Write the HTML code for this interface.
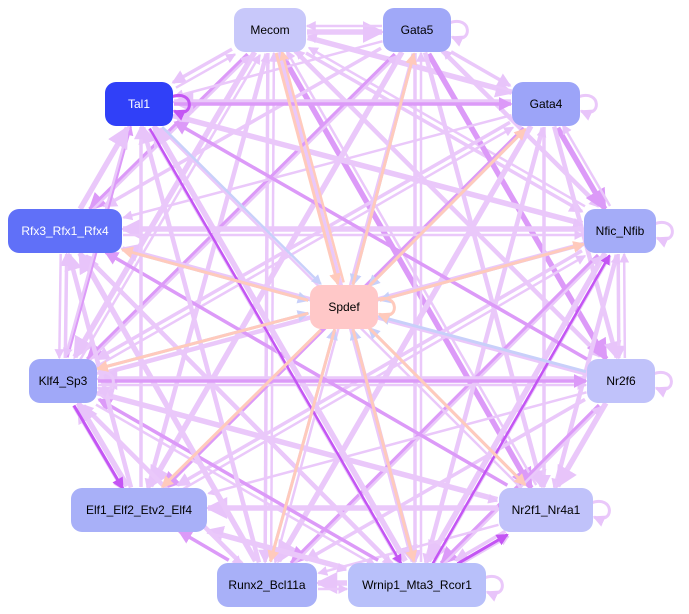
<!DOCTYPE html>
<html><head><meta charset="utf-8"><style>
html,body{margin:0;padding:0;background:#fff;}
svg{display:block;}
text{font-family:"Liberation Sans",sans-serif;font-size:12px;}
</style></head><body>
<svg id="g" width="689" height="614" viewBox="0 0 689 614" xmlns="http://www.w3.org/2000/svg">
<defs>
<marker id="mL" markerWidth="4" markerHeight="4" refX="3.5" refY="2" orient="auto" markerUnits="strokeWidth"><path d="M0,0 L4,2 L0,4z" fill="#e8c4fa"/></marker>
<marker id="mP" markerWidth="4" markerHeight="4" refX="3.5" refY="2" orient="auto" markerUnits="strokeWidth"><path d="M0,0 L4,2 L0,4z" fill="#c455f4"/></marker>
<marker id="mM" markerWidth="4" markerHeight="4" refX="3.5" refY="2" orient="auto" markerUnits="strokeWidth"><path d="M0,0 L4,2 L0,4z" fill="#dc9af8"/></marker>
<marker id="mO" markerWidth="4" markerHeight="4" refX="3.5" refY="2" orient="auto" markerUnits="strokeWidth"><path d="M0,0 L4,2 L0,4z" fill="#ffcabc"/></marker>
<marker id="mB" markerWidth="4" markerHeight="4" refX="3.5" refY="2" orient="auto" markerUnits="strokeWidth"><path d="M0,0 L4,2 L0,4z" fill="#c8d0fa"/></marker>
</defs>
<g id="edges"></g>
<g id="nodes"></g>
</svg>
<script>
var N={
Mecom:[270,30,72,"#c8c8fa","#000"],
Gata5:[417,30,68,"#a0a8f8","#000"],
Tal1:[139,104,68,"#3040f8","#fff"],
Gata4:[546,104,68,"#9ca4f8","#000"],
Rfx3_Rfx1_Rfx4:[65,231,114,"#6070f8","#fff"],
Nfic_Nfib:[620,231,72,"#a4acf8","#000"],
Spdef:[344,307,68,"#ffc8c8","#000"],
Klf4_Sp3:[63,381,68,"#a0a8f8","#000"],
Nr2f6:[621,381,68,"#c0c2fa","#000"],
Elf1_Elf2_Etv2_Elf4:[139,510,136,"#a8b0f8","#000"],
Nr2f1_Nr4a1:[546,510,94,"#c0c2fa","#000"],
Runx2_Bcl11a:[267,585,100,"#a8b0f8","#000"],
Wrnip1_Mta3_Rcor1:[417,585,138,"#b8c0fa","#000"]
};
var H=44;
var outer=["Mecom","Gata5","Gata4","Nfic_Nfib","Nr2f6","Nr2f1_Nr4a1","Wrnip1_Mta3_Rcor1","Runx2_Bcl11a","Elf1_Elf2_Etv2_Elf4","Klf4_Sp3","Rfx3_Rfx1_Rfx4","Tal1"];
var col={L:"#eac8fa",M:"#dc9af8",P:"#c455f4",O:"#ffcabc",B:"#c8d0fa"};
function clip(a,b){var dx=b[0]-a[0],dy=b[1]-a[1];var hw=a[2]/2+1,hh=H/2+1;var t=Math.min(Math.abs(hw/(dx||1e-9)),Math.abs(hh/(dy||1e-9)));return [a[0]+dx*t,a[1]+dy*t];}
var E=document.getElementById("edges"),NS="http://www.w3.org/2000/svg";
function edge(s,d,c,w,off){var a=N[s],b=N[d];off=off||0;var dx=b[0]-a[0],dy=b[1]-a[1],l=Math.hypot(dx,dy),px=-dy/l*off,py=dx/l*off;
var A=[a[0]+px,a[1]+py,a[2]],B=[b[0]+px,b[1]+py,b[2]];var p=clip(A,B),q=clip(B,A);
var ln=document.createElementNS(NS,"line");ln.setAttribute("x1",p[0]);ln.setAttribute("y1",p[1]);ln.setAttribute("x2",q[0]);ln.setAttribute("y2",q[1]);
ln.setAttribute("stroke",col[c]);ln.setAttribute("stroke-width",w||3);ln.setAttribute("marker-end","url(#m"+c+")");E.appendChild(ln);}
// lavender complete-ish graph among outer nodes
var skip={"Mecom-Tal1":1};
for(var i=0;i<outer.length;i++)for(var j=i+1;j<outer.length;j++){
 var s=outer[i],d=outer[j];
 var w=2.5+((i*7+j*3)%4);
 edge(s,d,((i+j)%5==0)?"M":"L",w,((i+j)%2)?2:-2);
 if((i*j)%3==0) edge(d,s,"L",2.5,4);
}
edge("Tal1","Gata4","M",3.5);
edge("Klf4_Sp3","Nr2f6","M",3.5);
// dark purple
edge("Klf4_Sp3","Elf1_Elf2_Etv2_Elf4","P",3,3);
edge("Tal1","Wrnip1_Mta3_Rcor1","P",2.5,3);
edge("Wrnip1_Mta3_Rcor1","Nfic_Nfib","P",2.5,3);
edge("Wrnip1_Mta3_Rcor1","Nr2f1_Nr4a1","P",3,2);
// into / out of Spdef
edge("Mecom","Spdef","O",3);edge("Spdef","Mecom","O",2.5,6);
edge("Gata5","Spdef","B",3,-3);edge("Spdef","Gata5","O",3,3);
edge("Tal1","Spdef","B",2.5);
edge("Gata4","Spdef","B",3,-3);edge("Spdef","Gata4","O",3,3);
edge("Nfic_Nfib","Spdef","B",3,-3);edge("Spdef","Nfic_Nfib","O",3,3);
edge("Nr2f6","Spdef","B",3);
edge("Rfx3_Rfx1_Rfx4","Spdef","B",3,3);edge("Spdef","Rfx3_Rfx1_Rfx4","O",3,-3);
edge("Klf4_Sp3","Spdef","B",3,-3);edge("Spdef","Klf4_Sp3","O",3,3);
edge("Spdef","Elf1_Elf2_Etv2_Elf4","O",3);edge("Runx2_Bcl11a","Spdef","B",3,-3);edge("Spdef","Runx2_Bcl11a","O",3,3);
edge("Wrnip1_Mta3_Rcor1","Spdef","B",3,3);edge("Spdef","Wrnip1_Mta3_Rcor1","O",3,-3);
edge("Nr2f1_Nr4a1","Spdef","B",3,3);edge("Spdef","Nr2f1_Nr4a1","O",3,-3);
// self loops
function loop(n,c){var a=N[n];var x=a[0]+a[2]/2,y=a[1];var p=document.createElementNS(NS,"path");
p.setAttribute("d","M"+(x-2)+","+(y-7)+" C"+(x+22)+","+(y-16)+" "+(x+22)+","+(y+16)+" "+(x+1)+","+(y+7));
p.setAttribute("fill","none");p.setAttribute("stroke",col[c]);p.setAttribute("stroke-width",3);p.setAttribute("marker-end","url(#m"+c+")");E.appendChild(p);}
["Gata5","Gata4","Nfic_Nfib","Nr2f6","Nr2f1_Nr4a1","Wrnip1_Mta3_Rcor1","Klf4_Sp3"].forEach(function(n){loop(n,"L")});
loop("Tal1","P");loop("Spdef","O");
var G=document.getElementById("nodes");
for(var k in N){var a=N[k];var r=document.createElementNS(NS,"rect");
r.setAttribute("x",a[0]-a[2]/2);r.setAttribute("y",a[1]-H/2);r.setAttribute("width",a[2]);r.setAttribute("height",H);r.setAttribute("rx",11);r.setAttribute("fill",a[3]);G.appendChild(r);
var t=document.createElementNS(NS,"text");t.setAttribute("x",a[0]);t.setAttribute("y",a[1]+4);t.setAttribute("text-anchor","middle");t.setAttribute("fill",a[4]);t.textContent=k;G.appendChild(t);}
</script>
</body></html>
